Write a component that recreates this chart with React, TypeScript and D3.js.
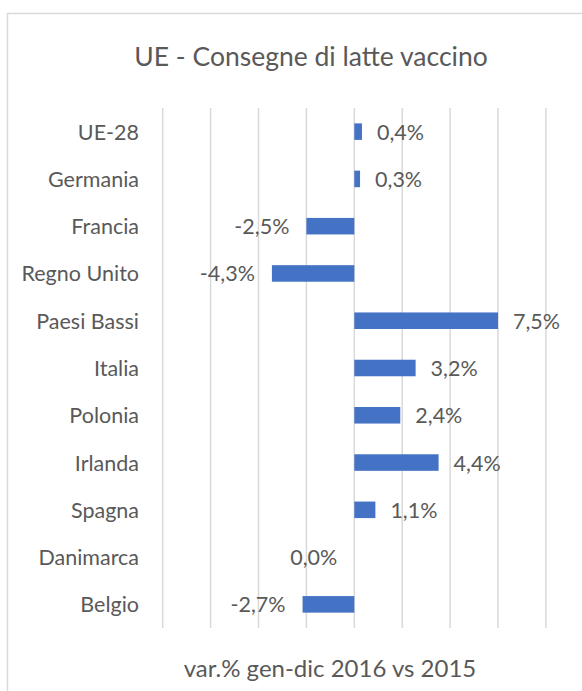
import React, { useRef, useEffect } from 'react';
import * as d3 from 'd3';

const categories = ['UE-28', 'Germania', 'Francia', 'Regno Unito', 'Paesi Bassi', 'Italia', 'Polonia', 'Irlanda', 'Spagna', 'Danimarca', 'Belgio'];
const values = [0.4, 0.3, -2.5, -4.3, 7.5, 3.2, 2.4, 4.4, 1.1, 0.0, -2.7];
const tickValues = [-10, -7.5, -5, -2.5, 0, 2.5, 5, 7.5, 10];
const chartTitle = 'UE - Consegne di latte vaccino';
const axisTitle = 'var.% gen-dic 2016 vs 2015';

const W = 582;
const H = 691;
const FONT = 'Lato, "Open Sans", sans-serif';
const TEXT = '#595959';
const GRID = '#d9d9d9';
const BAR = '#4472c4';

const fmt = (v: number) => v.toFixed(1).replace('.', ',') + '%';

const App = () => {
    const svgRef = useRef<SVGSVGElement>(null);

    useEffect(() => {
        if (!svgRef.current) return;
        const svg = d3.select(svgRef.current);
        svg.selectAll('*').remove();

        // chart frame (runs off the right and bottom edge)
        svg.append('rect')
            .attr('x', 7.5).attr('y', 13.5)
            .attr('width', W + 20).attr('height', H + 20)
            .attr('fill', '#fff')
            .attr('stroke', GRID).attr('stroke-width', 1.5);

        svg.append('text')
            .attr('x', 311).attr('y', 66)
            .attr('text-anchor', 'middle')
            .attr('fill', TEXT)
            .attr('font-family', FONT)
            .attr('font-size', '26.5px')
            .text(chartTitle);

        const x = d3.scaleLinear().domain([-10, 10]).range([162.7, 545.9]);
        const y = d3.scaleBand().domain(categories).range([108, 628])
            .paddingInner(0.65).paddingOuter(0.325);

        // vertical gridlines
        svg.append('g').selectAll('line')
            .data(tickValues)
            .enter().append('line')
            .attr('x1', d => x(d)).attr('x2', d => x(d))
            .attr('y1', 108).attr('y2', 628)
            .attr('stroke', GRID).attr('stroke-width', 1.5);

        // category labels
        svg.append('g').selectAll('text')
            .data(categories)
            .enter().append('text')
            .attr('x', 139)
            .attr('y', d => (y(d) as number) + y.bandwidth() / 2 + 8)
            .attr('text-anchor', 'end')
            .attr('fill', TEXT)
            .attr('font-family', FONT)
            .attr('font-size', '21.5px')
            .text(d => d);

        // bars
        svg.append('g').selectAll('rect')
            .data(values)
            .enter().append('rect')
            .attr('x', d => x(Math.min(0, d)))
            .attr('y', (d, i) => y(categories[i]) as number)
            .attr('width', d => Math.abs(x(d) - x(0)))
            .attr('height', y.bandwidth())
            .attr('fill', BAR);

        // value labels
        svg.append('g').selectAll('text')
            .data(values)
            .enter().append('text')
            .attr('x', d => d > 0 ? x(d) + 15 : x(Math.min(0, d)) - 17)
            .attr('y', (d, i) => (y(categories[i]) as number) + y.bandwidth() / 2 + 8)
            .attr('text-anchor', d => d > 0 ? 'start' : 'end')
            .attr('fill', TEXT)
            .attr('font-family', FONT)
            .attr('font-size', '21.5px')
            .text(d => fmt(d));

        svg.append('text')
            .attr('x', 330).attr('y', 677)
            .attr('text-anchor', 'middle')
            .attr('fill', TEXT)
            .attr('font-family', FONT)
            .attr('font-size', '24px')
            .text(axisTitle);
    }, []);

    return (
        <div style={{ position: 'absolute', left: 0, top: 0, width: W, height: H, overflow: 'hidden', background: '#fff' }}>
            <svg ref={svgRef} width={W} height={H} style={{ display: 'block' }} />
        </div>
    );
};

export default App;
